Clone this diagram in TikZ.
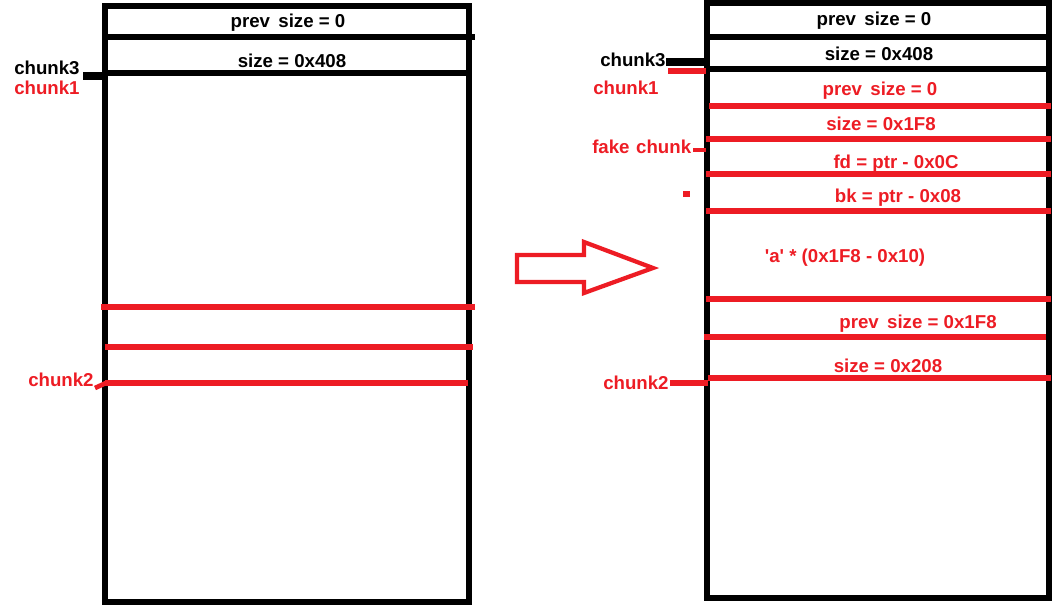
\documentclass[tikz,border=0pt]{standalone}
\usepackage{fontspec}
\setmainfont{Liberation Sans}
\definecolor{pred}{RGB}{237,28,36}
\begin{document}
\begin{tikzpicture}[x=0.75pt,y=-0.75pt,
  txt/.style={font=\bfseries\fontsize{14}{16}\selectfont, anchor=base, inner sep=0pt},
  lbl/.style={txt, anchor=base west},
  box/.style={draw=black, line width=3.9pt},
  bline/.style={draw=black, line width=3.9pt},
  rline/.style={draw=pred, line width=4.4pt},
]
\useasboundingbox (0,0) rectangle (1058,610);
% ---------- left box ----------
\draw[box] (105,6) rectangle (469,602);
\draw[bline] (105,37) -- (475,37);
\draw[bline] (105,73) -- (469,73);
\draw[rline] (101,307) -- (475,307);
\draw[rline] (105,347) -- (473,347);
\draw[rline] (105,383) -- (468,383);
\node[txt] (l1) at (288,28) {prev\hspace{0.45em}size = 0};
\node[txt] (l2) at (292,68) {size = 0x408};
\node[lbl] (lc3) at (14,75) {chunk3};
\node[lbl, text=pred] (lc1) at (14,95) {chunk1};
\node[lbl, text=pred] (lc2) at (28,386) {chunk2};
\draw[black, line width=6pt] (83,76) -- (104,76);
\draw[pred, line width=3.5pt] (95,388) -- (106,383);
% ---------- arrow ----------
\draw[pred, line width=3.2pt, line join=miter]
  (517,255) -- (584,255) -- (584,242) -- (653,268) -- (584,293) -- (584,282) -- (517,282) -- cycle;
% ---------- right box ----------
\draw[box] (707,3) rectangle (1049,598);
\draw[bline] (707,37) -- (1049,37);
\draw[bline] (707,69) -- (1049,69);
\draw[rline] (709,106) -- (1051,106);
\draw[rline] (706,139) -- (1051,139);
\draw[rline] (706,174) -- (1051,174);
\draw[rline] (706,211) -- (1051,211);
\draw[rline] (706,299) -- (1051,299);
\draw[rline] (704,337) -- (1046,337);
\draw[rline] (708,378) -- (1051,378);
\node[txt] (r1) at (874,26) {prev\hspace{0.45em}size = 0};
\node[txt] (r2) at (879,61) {size = 0x408};
\node[txt, text=pred] (r3) at (880,96) {prev\hspace{0.45em}size = 0};
\node[txt, text=pred] (r4) at (881,131) {size = 0x1F8};
\node[txt, text=pred] (r5) at (896,169) {fd = ptr - 0x0C};
\node[txt, text=pred] (r6) at (898,202) {bk = ptr - 0x08};
\node[txt, text=pred] (r7) at (845,262) {\textquotesingle a\textquotesingle\ * (0x1F8 - 0x10)};
\node[txt, text=pred] (r8) at (918,328) {prev\hspace{0.45em}size = 0x1F8};
\node[txt, text=pred] (r9) at (888,372) {size = 0x208};
\node[lbl] (rc3) at (600,67) {chunk3};
\node[lbl, text=pred] (rc1) at (593,95) {chunk1};
\node[lbl, text=pred] (rfk) at (592,153) {fake\hspace{0.35em}chunk};
\node[lbl, text=pred] (rc2) at (603,389) {chunk2};
\draw[black, line width=6.5pt] (666,62) -- (708,62);
\draw[pred, line width=4.5pt] (668,71) -- (706,71);
\draw[pred, line width=3.5pt] (693,150) -- (706,150);
\fill[pred] (683,191) rectangle (690,197);
\draw[pred, line width=5pt] (670,383) -- (708,383);
\end{tikzpicture}
\end{document}
